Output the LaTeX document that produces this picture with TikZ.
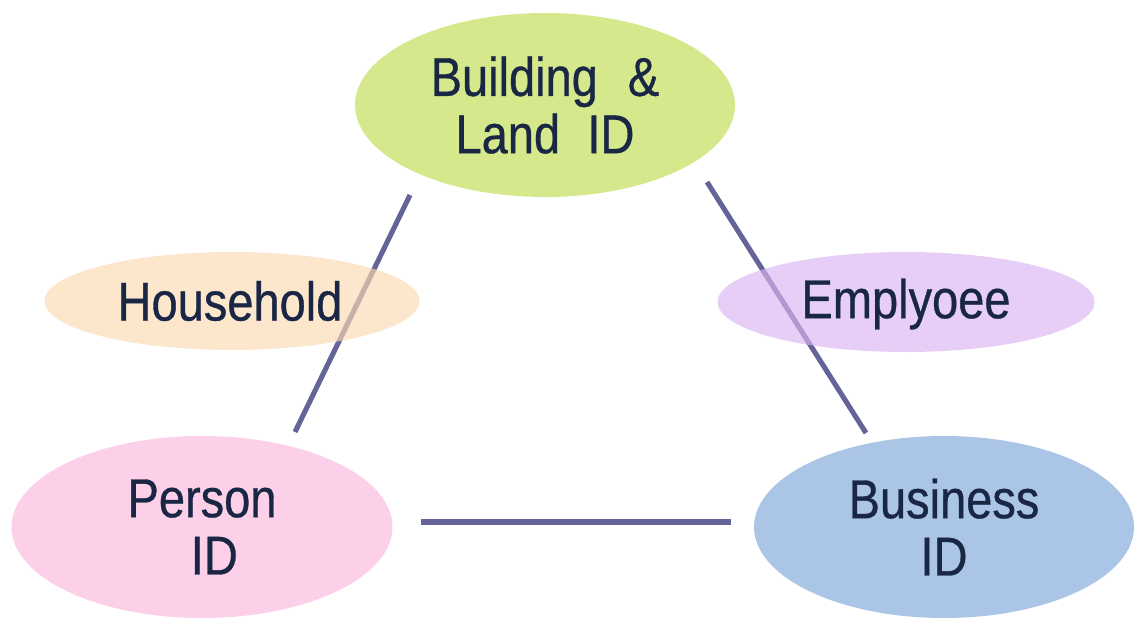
\documentclass[tikz,border=0pt]{standalone}
\usepackage{fontspec}
\usetikzlibrary{shapes.geometric}
\setmainfont{Liberation Sans}[FakeStretch=0.86,FakeBold=0.6]
\definecolor{txt}{RGB}{25,38,68}
\definecolor{lnc}{RGB}{100,100,152}
\definecolor{cgreen}{RGB}{213,233,140}
\definecolor{cpeach}{RGB}{251,217,177}
\definecolor{clav}{RGB}{217,180,242}
\definecolor{cpink}{RGB}{251,208,232}
\definecolor{cblue}{RGB}{170,197,229}
\begin{document}
\begin{tikzpicture}[x=0.75pt,y=-0.75pt,
  bub/.style={ellipse, inner sep=0pt, text=txt, align=center,
    font=\fontsize{41}{43}\selectfont},
  lbl/.style={text=txt, font=\fontsize{41}{43}\selectfont},
  link/.style={draw=lnc, line width=3.8pt}]
\useasboundingbox (0,0) rectangle (1134,617);
% connectors (behind)
\coordinate (l1a) at (410,195);
\coordinate (l1b) at (295,432);
\coordinate (l2a) at (707,182);
\coordinate (l2b) at (866,433);
\coordinate (l3a) at (421,522);
\coordinate (l3b) at (731,522);
% main ellipses
\node[bub, fill=cgreen, minimum width=380*0.75pt, minimum height=184*0.75pt] (bld) at (545,105) {Building\hspace{0.55em}\&\\Land\hspace{0.5em}ID};
\node[bub, fill=cpink, minimum width=381*0.75pt, minimum height=182*0.75pt] (per) at (202,527) {Person\\\hspace{0.45em}ID};
\node[bub, fill=cblue, minimum width=380*0.75pt, minimum height=182*0.75pt] (bus) at (944,527) {Business\\ID};
\draw[link] (l1a) -- (l1b);
\draw[link] (l2a) -- (l2b);
\draw[link] (l3a) -- (l3b);
% relation ellipses (translucent over lines)
\node[bub, fill=cpeach, fill opacity=0.65, minimum width=375*0.75pt, minimum height=98*0.75pt] (hh) at (232,301) {};
\node[lbl] (hht) at (230,301) {Household};
\node[bub, fill=clav, fill opacity=0.65, minimum width=377*0.75pt, minimum height=100*0.75pt] (emp) at (906,302) {};
\node[lbl] (empt) at (906,304) {Emplyoee};
\end{tikzpicture}
\end{document}
